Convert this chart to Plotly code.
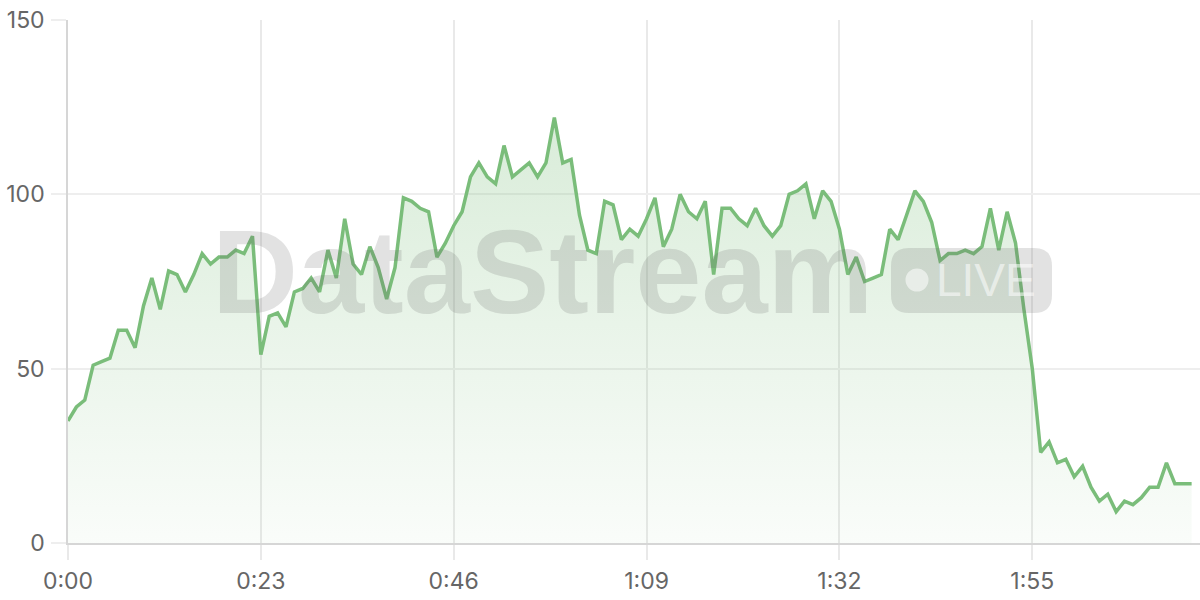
import plotly.graph_objects as go

# seconds since start
seconds = list(range(135))
values = [35, 39, 41, 51, 52, 53, 61, 61, 56, 68, 76, 67, 78, 77, 72, 77, 83, 80, 82, 82,
          84, 83, 88, 54, 65, 66, 62, 72, 73, 76, 72, 84, 76, 93, 80, 77, 85, 79, 70, 79,
          99, 98, 96, 95, 82, 86, 91, 95, 105, 109, 105, 103, 114, 105, 107, 109, 105, 109, 122, 109,
          110, 94, 84, 83, 98, 97, 87, 90, 88, 93, 99, 85, 90, 100, 95, 93, 98, 77, 96, 96,
          93, 91, 96, 91, 88, 91, 100, 101, 103, 93, 101, 98, 90, 77, 82, 75, 76, 77, 90, 87,
          94, 101, 98, 92, 81, 83, 83, 84, 83, 85, 96, 84, 95, 86, 67, 50, 26, 29, 23, 24,
          19, 22, 16, 12, 14, 9, 12, 11, 13, 16, 16, 23, 17, 17, 17]

x_tickvals = [0, 23, 46, 69, 92, 115]
x_ticktext = ["0:00", "0:23", "0:46", "1:09", "1:32", "1:55"]
y_tickvals = [0, 50, 100, 150]

LINE = "#7abd7a"
FONT = "Inter, 'Noto Sans', sans-serif"

fig = go.Figure()
fig.add_trace(go.Scatter(
    x=seconds, y=values, mode="lines",
    line=dict(color=LINE, width=3.5),
    fill="tozeroy",
    fillgradient=dict(type="vertical",
                      colorscale=[[0, "rgba(120,188,120,0.04)"], [1, "rgba(120,188,120,0.28)"]],
                      start=0, stop=122),
    hoverinfo="skip", showlegend=False,
))

# watermark
WM = "rgba(100,100,100,0.19)"
fig.add_annotation(xref="paper", yref="paper", x=(210 - 68) / 1132, y=(543 - 271) / 523,
                   xanchor="left", yanchor="middle", showarrow=False,
                   text="<b>DataStream</b>",
                   font=dict(family="Liberation Sans, Arial, sans-serif", size=119, color=WM))

# badge (pixel offsets relative to plot-area bottom-left)
bx0, bx1, by0, by1, r = 823, 984, 230, 295, 18
path = (f"M {bx0 + r},{by0} L {bx1 - r},{by0} Q {bx1},{by0} {bx1},{by0 + r} "
        f"L {bx1},{by1 - r} Q {bx1},{by1} {bx1 - r},{by1} L {bx0 + r},{by1} "
        f"Q {bx0},{by1} {bx0},{by1 - r} L {bx0},{by0 + r} Q {bx0},{by0} {bx0 + r},{by0} Z")
fig.add_shape(type="path", path=path, xref="paper", yref="paper",
              xsizemode="pixel", ysizemode="pixel", xanchor=0, yanchor=0,
              fillcolor=WM, line=dict(width=0), layer="above")
fig.add_shape(type="circle", xref="paper", yref="paper",
              xsizemode="pixel", ysizemode="pixel", xanchor=0, yanchor=0,
              x0=837.5, x1=860.5, y0=251.5, y1=274.5,
              fillcolor="rgba(255,255,255,0.55)", line=dict(width=0), layer="above")
fig.add_annotation(xref="paper", yref="paper", x=(934 - 68) / 1132, y=(543 - 280) / 523,
                   xanchor="left", yanchor="middle", showarrow=False,
                   text="LIVE",
                   font=dict(family="Liberation Sans, Arial, sans-serif", size=46,
                             color="rgba(255,255,255,0.55)"))

fig.update_layout(
    width=1200, height=600,
    margin=dict(l=68, r=0, t=20, b=57, autoexpand=False),
    paper_bgcolor="white", plot_bgcolor="white",
    font=dict(family=FONT, size=23, color="#666666"),
    xaxis=dict(range=[0, 135], tickmode="array", tickvals=x_tickvals, ticktext=x_ticktext,
               showgrid=True, gridcolor="#e9e9e9", gridwidth=1.5,
               showline=True, linecolor="#d6d6d6", linewidth=1.5,
               ticks="outside", ticklen=15, tickcolor="#e9e9e9", tickwidth=1.5,
               zeroline=False, automargin=False, ticklabelstandoff=2,
               tickfont=dict(family=FONT, size=23, color="#666666")),
    yaxis=dict(range=[0, 150], tickmode="array", tickvals=y_tickvals,
               showgrid=True, gridcolor="#eeeeee", gridwidth=1.5,
               showline=True, linecolor="#d6d6d6", linewidth=1.5,
               ticks="outside", ticklen=15, tickcolor="#eeeeee", tickwidth=1.5,
               zeroline=False, automargin=False, ticklabelstandoff=2,
               tickfont=dict(family=FONT, size=23, color="#666666")),
)

fig.write_html("out.html", config={"displayModeBar": False},
               post_script="document.body.style.margin='0';")
